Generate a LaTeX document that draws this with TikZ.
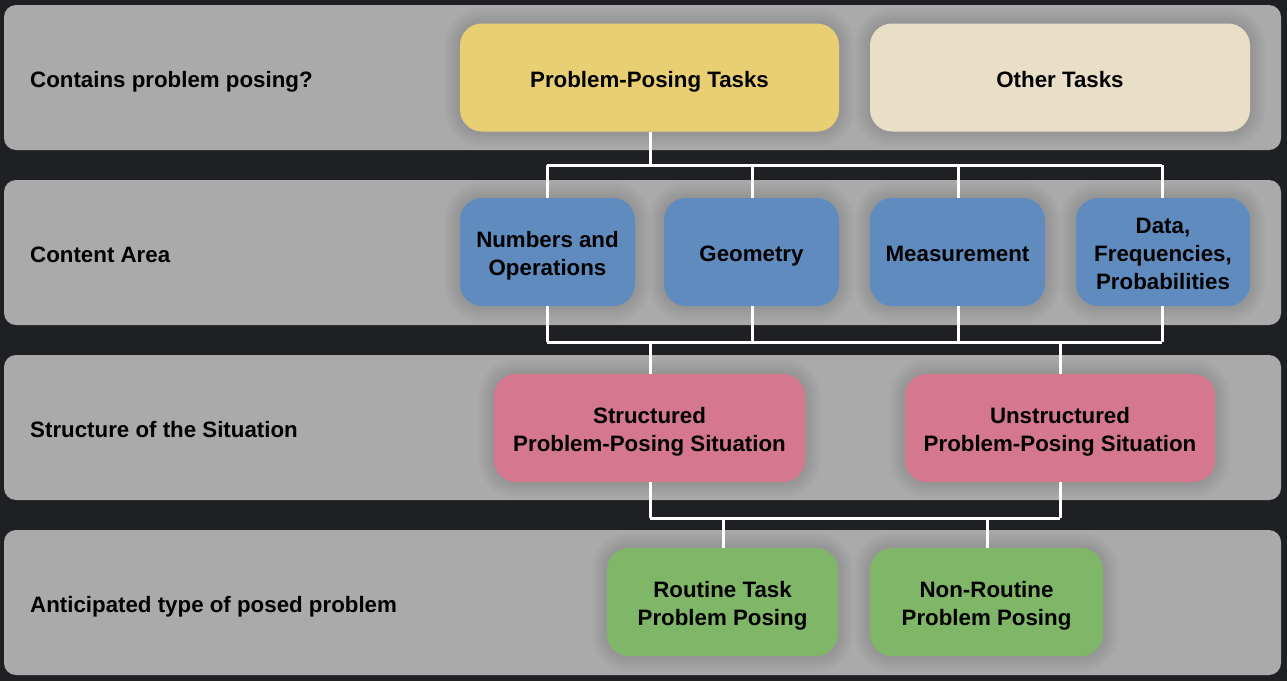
\documentclass[tikz,border=0pt]{standalone}
\usepackage{fontspec}
\setmainfont{Liberation Sans}
\definecolor{bgdark}{HTML}{1F2023}
\definecolor{bandgray}{HTML}{AAAAAA}
\definecolor{ppyellow}{HTML}{E8CF74}
\definecolor{otcream}{HTML}{E8DFC6}
\definecolor{cablue}{HTML}{5F8BBF}
\definecolor{stpink}{HTML}{D4778F}
\definecolor{tpgreen}{HTML}{80B667}
\tikzset{
  band/.style={fill=bandgray, rounded corners=12pt},
  halo/.style={preaction={draw=black, draw opacity=0.011, line width=#1}},
  softshadow/.style={halo=32pt, halo=29pt, halo=26pt, halo=23pt, halo=20pt,
    halo=17pt, halo=14pt, halo=11pt, halo=8pt, halo=5pt},
  box/.style={rounded corners=22pt, minimum height=108pt, inner sep=0pt,
    softshadow},
  boxtext/.style={align=center, inner sep=0pt, text=black,
    font=\bfseries\fontsize{22.3}{28}\selectfont,
    execute at end node={\vphantom{g}}},
  link/.style={draw=white, line width=3pt},
  lbl/.style={anchor=base west, inner sep=0pt, text=black,
    font=\bfseries\fontsize{22.3}{28}\selectfont}
}
\begin{document}
\begin{tikzpicture}[x=1pt, y=-1pt]
  % background and horizontal bands
  \fill[bgdark] (0,0) rectangle (1287,681);
  \useasboundingbox (0,0) rectangle (1287,681);
  \fill[band] (4,5) rectangle (1281,150);
  \fill[band] (4,180) rectangle (1281,325);
  \fill[band] (4,355) rectangle (1281,500);
  \fill[band] (4,530) rectangle (1281,675);

  % row labels
  \node[lbl] (l1) at (30,87) {Contains problem posing?};
  \node[lbl] (l2) at (30,262) {Content Area};
  \node[lbl] (l3) at (30,437) {Structure of the Situation};
  \node[lbl] (l4) at (30,612) {Anticipated type of posed problem};

  % connector junctions
  \coordinate (j1) at (650,165);
  \coordinate (j1a) at (547,165);
  \coordinate (j1b) at (752,165);
  \coordinate (j1c) at (958,165);
  \coordinate (j1d) at (1162,165);
  \coordinate (j2a) at (547,342);
  \coordinate (j2b) at (752,342);
  \coordinate (j2c) at (958,342);
  \coordinate (j2d) at (1162,342);
  \coordinate (j2s) at (650,342);
  \coordinate (j2u) at (1060,342);
  \coordinate (j3s) at (650,518);
  \coordinate (j3u) at (1060,518);
  \coordinate (j3r) at (723,518);
  \coordinate (j3n) at (987,518);

  % boxes
  \node[box, fill=ppyellow, minimum width=379pt] (ppt) at (649.5,77.5) {};
  \node[box, fill=otcream, minimum width=380pt] (oth) at (1060,77.5) {};
  \node[box, fill=cablue, minimum width=175pt] (num) at (547.5,252) {};
  \node[box, fill=cablue, minimum width=175pt] (geo) at (751.5,252) {};
  \node[box, fill=cablue, minimum width=175pt] (mea) at (957.5,252) {};
  \node[box, fill=cablue, minimum width=174pt] (dat) at (1163,252) {};
  \node[box, fill=stpink, minimum width=311pt] (str) at (649.5,428) {};
  \node[box, fill=stpink, minimum width=310pt] (uns) at (1060,428) {};
  \node[box, fill=tpgreen, minimum width=231pt] (rou) at (722.5,602) {};
  \node[box, fill=tpgreen, minimum width=233pt] (nro) at (986.5,602) {};

  % connectors between the boxes
  \draw[link] ([xshift=0.5pt]ppt.south) -- (j1);
  \draw[link] (j1a) -- (j1d);
  \draw[link] (j1a) -- (j1a |- num.north);
  \draw[link] (j1b) -- (j1b |- geo.north);
  \draw[link] (j1c) -- (j1c |- mea.north);
  \draw[link] (j1d) -- (j1d |- dat.north);
  \draw[link] (j2a |- num.south) -- (j2a);
  \draw[link] (j2b |- geo.south) -- (j2b);
  \draw[link] (j2c |- mea.south) -- (j2c);
  \draw[link] (j2d |- dat.south) -- (j2d);
  \draw[link] (j2a) -- (j2d);
  \draw[link] (j2s) -- (j2s |- str.north);
  \draw[link] (j2u) -- (j2u |- uns.north);
  \draw[link] (j3s |- str.south) -- (j3s);
  \draw[link] (j3u |- uns.south) -- (j3u);
  \draw[link] (j3s) -- (j3u);
  \draw[link] (j3r) -- (j3r |- rou.north);
  \draw[link] (j3n) -- (j3n |- nro.north);

  % box texts
  \node[boxtext] (ppt-t) at ([yshift=-4pt]ppt.center) {Problem-Posing Tasks};
  \node[boxtext] (oth-t) at ([yshift=-4pt]oth.center) {Other Tasks};
  \node[boxtext] (num-t) at ([yshift=-4pt]num.center) {Numbers and\\Operations};
  \node[boxtext] (geo-t) at ([yshift=-4pt]geo.center) {Geometry};
  \node[boxtext] (mea-t) at ([yshift=-4pt]mea.center) {Measurement};
  \node[boxtext] (dat-t) at ([yshift=-4pt]dat.center) {Data,\\Frequencies,\\Probabilities};
  \node[boxtext] (str-t) at ([yshift=-4pt]str.center) {Structured\\Problem-Posing Situation};
  \node[boxtext] (uns-t) at ([yshift=-4pt]uns.center) {Unstructured\\Problem-Posing Situation};
  \node[boxtext] (rou-t) at ([yshift=-4pt]rou.center) {Routine Task\\Problem Posing};
  \node[boxtext] (nro-t) at ([yshift=-4pt]nro.center) {Non-Routine\\Problem Posing};
\end{tikzpicture}
\end{document}
